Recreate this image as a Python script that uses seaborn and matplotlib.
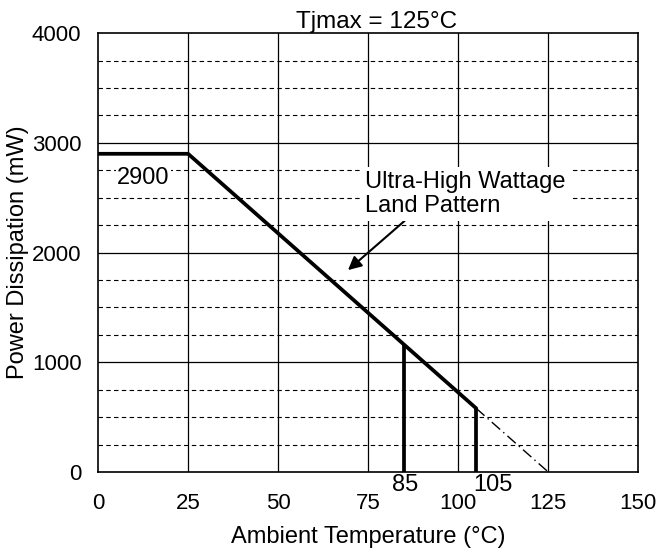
import matplotlib
matplotlib.use('Agg')
import matplotlib.pyplot as plt
import pandas as pd
import seaborn as sns

# derating curve (Tjmax = 125C)
temp = [0, 25, 105]
power = [2900, 2900, 580]
ext_temp = [105, 125]
ext_power = [580, 0]
mark_temp = [85, 105]
mark_power = [1160, 580]

x_ticks = [0, 25, 50, 75, 100, 125, 150]
y_ticks = [0, 1000, 2000, 3000, 4000]
minor_y = [250, 500, 750, 1250, 1500, 1750, 2250, 2500, 2750, 3250, 3500, 3750]

sns.set_style('white')
plt.rcParams['font.family'] = ['Liberation Sans', 'DejaVu Sans']
for key in ['text.color', 'axes.labelcolor', 'xtick.color', 'ytick.color']:
    plt.rcParams[key] = 'black'

fs_tick = 16
fs = 17

fig = plt.figure(figsize=(6.58, 5.52), dpi=100)
ax = fig.add_axes([0.149, 0.145, 0.821, 0.795])

# grid
for y in minor_y:
    ax.axhline(y, color='black', lw=0.8, ls=(0, (4, 3)), zorder=1)
for y in y_ticks[1:-1]:
    ax.axhline(y, color='black', lw=0.9, zorder=1)
for x in x_ticks[1:-1]:
    ax.axvline(x, color='black', lw=0.9, zorder=1)

df = pd.DataFrame({'temp': temp, 'power': power})
sns.lineplot(data=df, x='temp', y='power', color='black', lw=2.7, ax=ax, zorder=4)
ax.plot(ext_temp, ext_power, color='black', lw=1.0, ls=(0, (8, 3, 1, 3)), zorder=4)
ax.vlines(mark_temp, 0, mark_power, color='black', lw=2.7, zorder=4)

ax.set_xlim(0, 150)
ax.set_ylim(0, 4000)
ax.set_xticks(x_ticks)
ax.set_yticks(y_ticks)
ax.tick_params(labelsize=fs_tick, length=0)
ax.tick_params(axis='x', pad=15)
ax.tick_params(axis='y', pad=12)
ax.set_xlabel('Ambient Temperature (°C)', fontsize=fs, labelpad=9)
ax.set_ylabel('Power Dissipation (mW)', fontsize=fs, labelpad=2)
for s in ax.spines.values():
    s.set_color('black')
    s.set_linewidth(1.2)

ax.text(0.515, 1.0, 'Tjmax = 125°C', transform=ax.transAxes, ha='center',
        va='bottom', fontsize=17.5)

ax.text(12.6, 2680, '2900', ha='center', va='center', fontsize=fs,
        bbox=dict(facecolor='white', edgecolor='none', pad=1), zorder=3)

ax.annotate('Ultra-High Wattage\nLand Pattern', xy=(69.4, 1840), xytext=(74.2, 2740),
            ha='left', va='top', fontsize=fs, linespacing=1.08,
            bbox=dict(facecolor='white', edgecolor='none', pad=3),
            arrowprops=dict(arrowstyle='-|>', color='black', lw=1.5,
                            mutation_scale=20, shrinkA=0, shrinkB=0,
                            relpos=(0.22, 0.0)),
            zorder=3)

ax.text(85.3, -118, '85', ha='center', va='center', fontsize=fs, clip_on=False)
ax.text(109.7, -118, '105', ha='center', va='center', fontsize=fs, clip_on=False)

fig.savefig('out.png', dpi=100)
